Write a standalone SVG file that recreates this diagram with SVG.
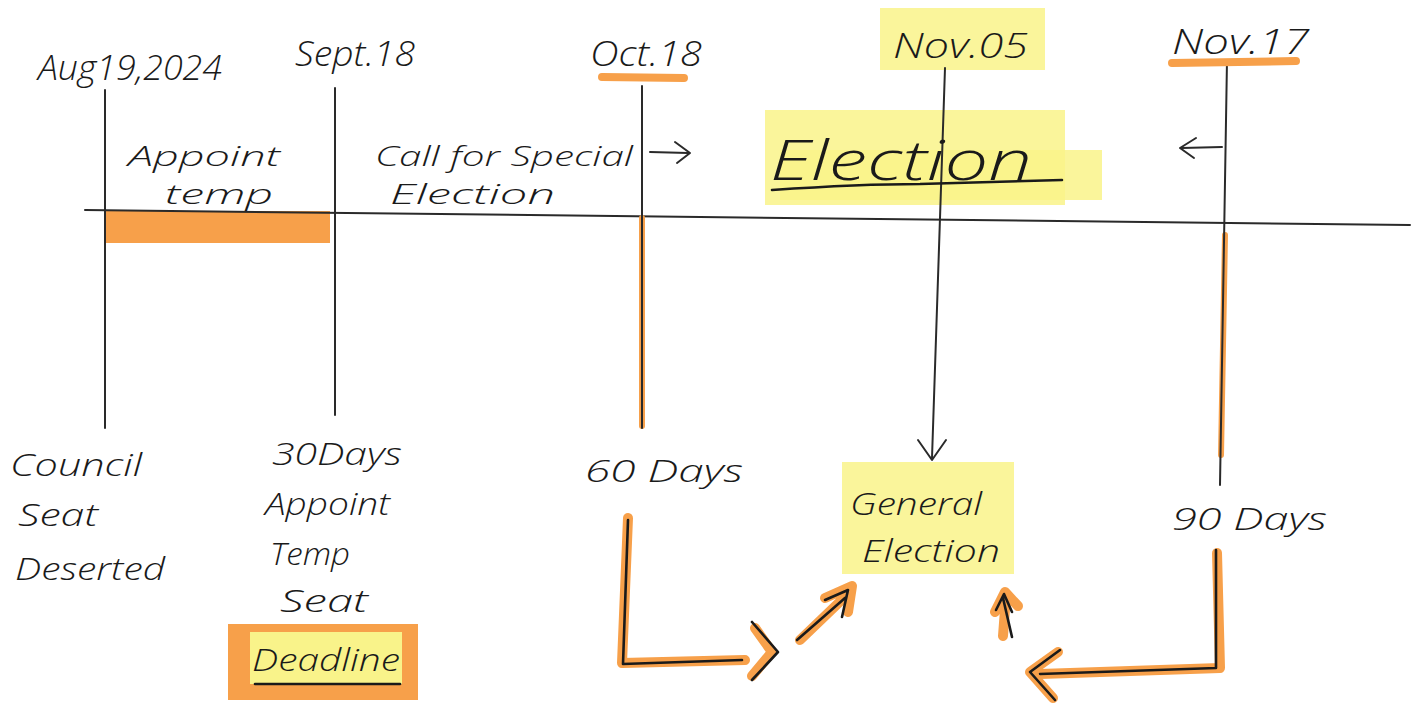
<svg xmlns="http://www.w3.org/2000/svg" width="1416" height="708" viewBox="0 0 1416 708">
<style>
text{font-family:"Open Sans","DejaVu Sans",sans-serif;font-weight:300;fill:#1a1a1a;font-style:italic}
.ink{stroke:#2a2a2a;stroke-width:2;fill:none;stroke-linecap:round;stroke-linejoin:round}
.pen{stroke:#1a1a1a;stroke-width:2.6;fill:none;stroke-linecap:round;stroke-linejoin:round}
.orange{stroke:#f7a04a;stroke-width:10;fill:none;stroke-linecap:round;stroke-linejoin:round}
.orfill{fill:#f7a04a}
.yel{fill:#f9f38a;opacity:0.85}
.d{font-size:34px}
.l{font-size:32px}
.s{font-size:27px}
</style>
<rect width="1416" height="708" fill="#ffffff"/>

<g id="highlights">
<rect class="yel" x="880" y="8" width="165" height="62"/>
<rect class="yel" x="765" y="110" width="300" height="95"/>
<rect class="yel" x="780" y="150" width="322" height="50"/>
<rect class="yel" x="842" y="462" width="172" height="112"/>
</g>

<g id="timeline">
<rect class="orfill" x="106" y="211" width="224" height="32"/>
<line class="ink" x1="85" y1="210" x2="1410" y2="225"/>
</g>

<g id="connectors">
<line class="ink" x1="105" y1="90" x2="105" y2="428"/>
<line class="ink" x1="335" y1="88" x2="335" y2="415"/>
<line class="orange" x1="642" y1="218" x2="642" y2="426" style="stroke-width:6"/>
<line class="ink" x1="642" y1="86" x2="642" y2="428"/>
<line class="ink" x1="945" y1="68" x2="932" y2="458"/>
<path class="ink" d="M918 440 L932 460 L946 440"/>
<line class="orange" x1="1225" y1="235" x2="1221" y2="455" style="stroke-width:6"/>
<line class="ink" x1="1227" y1="60" x2="1220" y2="485"/>
<path class="ink" d="M650 152 L688 153 M675 142 L690 153 L677 163"/>
<path class="ink" d="M1222 147 L1182 148 M1196 138 L1180 148 L1194 158"/>
<path class="orange" d="M628 518 L622 663 L745 660"/>
<path class="pen" d="M628 520 L623 664 L742 660"/>
<path class="orange" d="M755 628 L772 652 L752 676"/>
<path class="pen" d="M752 622 L778 652 L752 680"/>
<path class="orange" d="M800 640 L850 592 M825 598 L852 586 L848 612"/>
<path class="pen" d="M797 640 L845 598 M825 600 L848 590 L842 617"/>
<path class="orange" d="M1003 636 L1006 596 M995 612 L1005 592 L1018 606"/>
<path class="pen" d="M1012 637 L1003 598 M996 610 L1004 594 L1012 612"/>
<path class="orange" d="M1217 553 L1220 668 L1040 674"/>
<path class="pen" d="M1216 550 L1216 668 L1040 674"/>
<path class="orange" d="M1058 652 L1030 672 L1053 698"/>
<path class="pen" d="M1060 650 L1030 672 L1055 700"/>
</g>

<g id="aug19">
<text class="d" x="38" y="80" textLength="184" lengthAdjust="spacingAndGlyphs">Aug19,2024</text>
</g>
<g id="sept18">
<text class="d" x="295" y="66" textLength="120" lengthAdjust="spacingAndGlyphs">Sept.18</text>
</g>
<g id="oct18">
<line class="orange" x1="602" y1="77" x2="684" y2="78" style="stroke-width:8"/>
<text class="d" x="590" y="66" textLength="112" lengthAdjust="spacingAndGlyphs">Oct.18</text>
</g>
<g id="nov05">
<text class="d" x="893" y="58" textLength="135" lengthAdjust="spacingAndGlyphs">Nov.05</text>
</g>
<g id="nov17">
<line class="orange" x1="1172" y1="63" x2="1296" y2="61" style="stroke-width:8"/>
<text class="d" x="1172" y="54" textLength="137" lengthAdjust="spacingAndGlyphs">Nov.17</text>
</g>

<g id="appoint-temp">
<text class="s" x="128" y="166" textLength="152" lengthAdjust="spacingAndGlyphs">Appoint</text>
<text class="s" x="165" y="204" textLength="108" lengthAdjust="spacingAndGlyphs">temp</text>
</g>
<g id="call-special">
<text class="s" x="375" y="166" textLength="258" lengthAdjust="spacingAndGlyphs">Call for Special</text>
<text class="s" x="390" y="204" textLength="165" lengthAdjust="spacingAndGlyphs">Election</text>
</g>
<g id="election">
<text x="770" y="180" style="font-size:56px" textLength="262" lengthAdjust="spacingAndGlyphs">Election</text>
<path class="pen" d="M772 190 Q860 184 920 184 Q1000 182 1062 180"/>
</g>

<g id="council">
<text class="l" x="10" y="476" textLength="132" lengthAdjust="spacingAndGlyphs">Council</text>
<text class="l" x="18" y="526" textLength="80" lengthAdjust="spacingAndGlyphs">Seat</text>
<text class="l" x="15" y="580" textLength="150" lengthAdjust="spacingAndGlyphs">Deserted</text>
</g>
<g id="thirty-days">
<text class="l" x="272" y="465" textLength="130" lengthAdjust="spacingAndGlyphs">30Days</text>
<text class="l" x="265" y="515" textLength="125" lengthAdjust="spacingAndGlyphs">Appoint</text>
<text class="l" x="270" y="565" textLength="80" lengthAdjust="spacingAndGlyphs">Temp</text>
<text class="l" x="280" y="612" textLength="88" lengthAdjust="spacingAndGlyphs">Seat</text>
</g>
<g id="deadline">
<rect x="228" y="624" width="190" height="76" fill="#f7a04a"/>
<rect x="250" y="632" width="152" height="52" fill="#f9f38a"/>
<text class="l" x="252" y="671" textLength="148" lengthAdjust="spacingAndGlyphs">Deadline</text>
<path class="pen" d="M255 684 L400 684"/>
</g>
<g id="sixty-days">
<text class="l" x="585" y="482" textLength="158" lengthAdjust="spacingAndGlyphs">60 Days</text>
</g>
<g id="general-election">
<text class="l" x="850" y="515" textLength="132" lengthAdjust="spacingAndGlyphs">General</text>
<text class="l" x="862" y="562" textLength="138" lengthAdjust="spacingAndGlyphs">Election</text>
</g>
<g id="ninety-days">
<text class="l" x="1172" y="530" textLength="155" lengthAdjust="spacingAndGlyphs">90 Days</text>
</g>
</svg>
